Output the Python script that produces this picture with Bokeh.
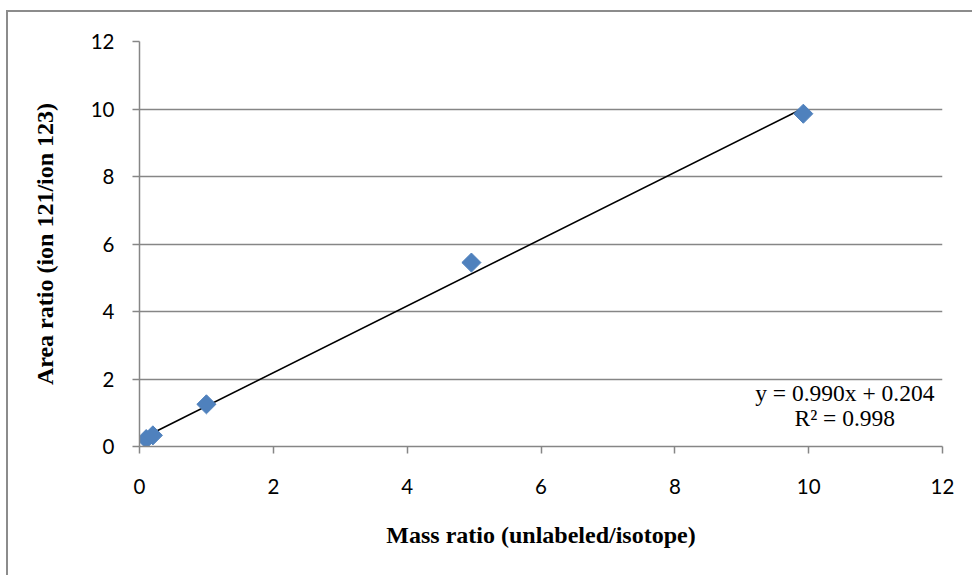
import numpy as np
from bokeh.plotting import figure
from bokeh.models import Range1d, FixedTicker, Label
from bokeh.embed import file_html
from bokeh.resources import INLINE

mass_ratio = [0.1, 0.2, 1.0, 4.96, 9.92]
area_ratio = [0.22, 0.33, 1.25, 5.45, 9.86]
slope = 0.990
intercept = 0.204
r2 = 0.998
x_ticks = [0, 2, 4, 6, 8, 10, 12]
y_ticks = [0, 2, 4, 6, 8, 10, 12]

# outer frame of the chart starts at (7, 11) of the window
p = figure(width=965, height=564, output_backend="svg", toolbar_location=None,
           x_range=Range1d(0, 12), y_range=Range1d(0, 12),
           frame_width=803, frame_height=405,
           min_border_left=131, min_border_top=29, min_border_right=31, min_border_bottom=130,
           margin=(10, 0, 0, 6))
p.styles = {"border-left": "2px solid #8c8c8c", "border-top": "2px solid #8c8c8c"}
p.outline_line_color = None
p.background_fill_color = "white"
p.border_fill_color = "white"

GRAY = "#868686"
p.xgrid.grid_line_color = None
p.ygrid.grid_line_color = GRAY
p.ygrid.grid_line_width = 1.5

for ax in (p.xaxis[0], p.yaxis[0]):
    ax.axis_line_color = GRAY
    ax.axis_line_width = 1.5
    ax.major_tick_line_color = GRAY
    ax.major_tick_line_width = 1.5
    ax.major_tick_in = 0
    ax.major_tick_out = 7
    ax.minor_tick_line_color = None
    ax.major_label_text_font = "Lato"
    ax.major_label_text_font_size = "20.5px"
    ax.major_label_text_color = "black"
    ax.axis_label_text_font = "Liberation Serif"
    ax.axis_label_text_font_style = "bold"
    ax.axis_label_text_color = "black"

p.xaxis.axis_label_text_font_size = "24px"
p.yaxis.axis_label_text_font_size = "24px"
p.xaxis.ticker = FixedTicker(ticks=x_ticks)
p.yaxis.ticker = FixedTicker(ticks=y_ticks)
p.xaxis.major_label_standoff = 25
p.yaxis.major_label_standoff = 18
p.xaxis.axis_label = "Mass ratio (unlabeled/isotope)"
p.yaxis.axis_label = "Area ratio (ion 121/ion 123)"
p.xaxis.axis_label_standoff = 25
p.yaxis.axis_label_standoff = 30

# trendline
xs = np.array([min(mass_ratio), max(mass_ratio)])
p.line(xs, slope * xs + intercept, line_color="black", line_width=1.6)

p.scatter(mass_ratio, area_ratio, marker="square", angle=np.pi / 4, size=13.5,
          fill_color="#4f81bd", line_color="#4f81bd")

eq1 = Label(x=10.54, y=1.6, text=f"y = {slope:.3f}x + {intercept:.3f}", text_align="center",
            text_baseline="middle", text_font="Liberation Serif", text_font_size="23.5px",
            text_color="black")
eq2 = Label(x=10.54, y=0.83, text=f"R² = {r2:.3f}", text_align="center",
            text_baseline="middle", text_font="Liberation Serif", text_font_size="23.5px",
            text_color="black")
p.add_layout(eq1)
p.add_layout(eq2)

open("out.html", "w").write(file_html(p, INLINE))
